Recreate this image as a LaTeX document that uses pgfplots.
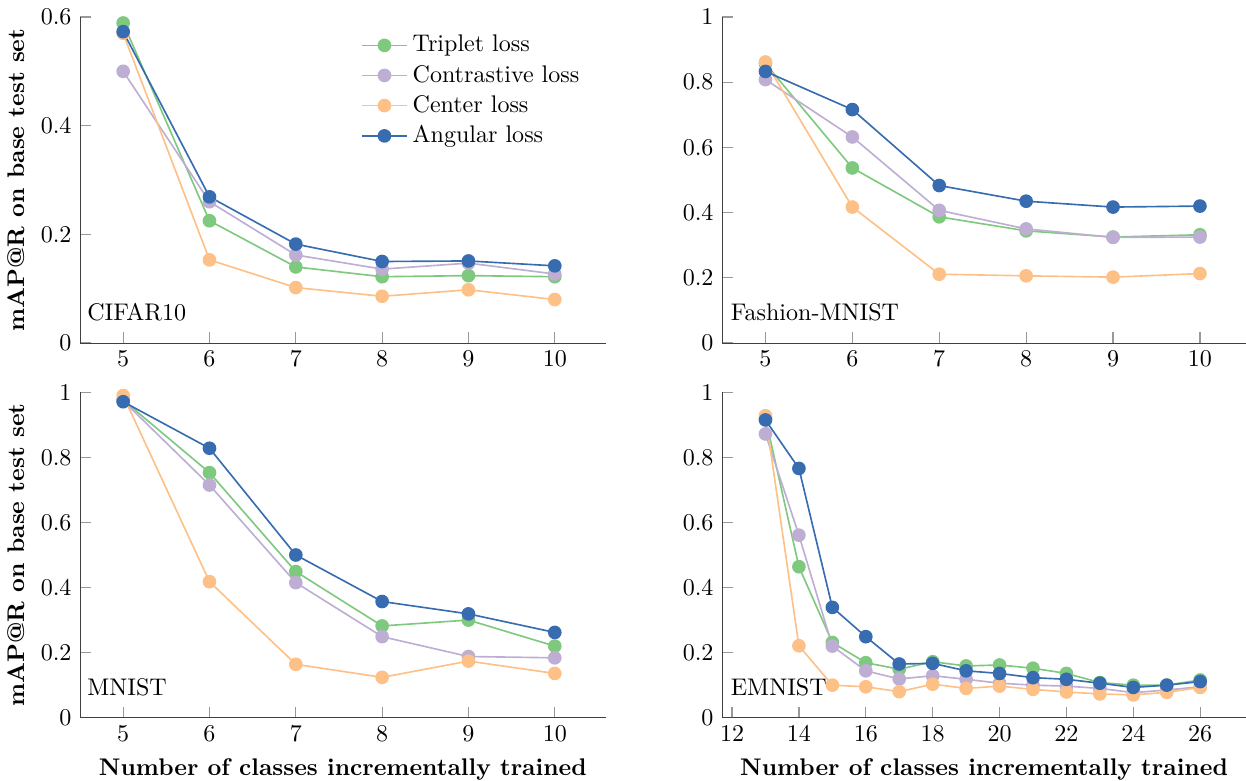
\documentclass[border=0pt]{standalone}
\usepackage{pgfplots}
\pgfplotsset{compat=1.18}
\definecolor{cTri}{HTML}{7FC97F}
\definecolor{cCon}{HTML}{BEAED4}
\definecolor{cCen}{HTML}{FDC086}
\definecolor{cAng}{HTML}{386CB0}
\pgfplotsset{
  base/.style={
    scale only axis,
    anchor=south west,
    axis x line*=bottom,
    axis y line*=left,
    axis line style={-, black!75},
    tick align=inside,
    major tick length=4.6pt,
    tick style={black!40, line width=0.5pt},
    ymin=0,
    every axis plot/.append style={line width=0.68pt, mark=*, mark size=2.5pt},
    yticklabel style={/pgf/number format/fixed},
    legend image code/.code={\draw[mark repeat=2,mark phase=2] plot coordinates {(0cm,0cm) (0.33cm,0cm) (0.66cm,0cm)};},
  },
  tri/.style={color=cTri, mark options={fill=cTri, draw=cTri}},
  con/.style={color=cCon, mark options={fill=cCon, draw=cCon}},
  cen/.style={color=cCen, mark options={fill=cCen, draw=cCen}},
  ang/.style={color=cAng, mark options={fill=cAng, draw=cAng}},
}
\begin{document}
\begin{tikzpicture}
\path[use as bounding box] (0,0) rectangle (518.34pt,324.48pt);
% Top-left: CIFAR10
\begin{axis}[base,
  at={(33.28pt,181.79pt)}, width=218.69pt, height=135.62pt,
  xmin=4.5, xmax=10.59, ymax=0.6,
  xtick={5,6,7,8,9,10}, ytick={0,0.2,0.4,0.6},
  ylabel={\textbf{mAP@R on base test set}},
  legend style={draw=none, fill=none, at={(0.52,0.975)}, anchor=north west, row sep=0pt},
  legend cell align=left,
]
\addplot[tri] coordinates {(5,0.589) (6,0.225) (7,0.140) (8,0.122) (9,0.124) (10,0.122)};
\addlegendentry{Triplet loss}
\addplot[con] coordinates {(5,0.500) (6,0.260) (7,0.162) (8,0.136) (9,0.147) (10,0.127)};
\addlegendentry{Contrastive loss}
\addplot[cen] coordinates {(5,0.570) (6,0.153) (7,0.102) (8,0.086) (9,0.098) (10,0.080)};
\addlegendentry{Center loss}
\addplot[ang] coordinates {(5,0.573) (6,0.269) (7,0.182) (8,0.150) (9,0.151) (10,0.142)};
\addlegendentry{Angular loss}
\node[anchor=south west, inner sep=0pt] at (rel axis cs:0.013,0.065) {CIFAR10};
\end{axis}
% Top-right: Fashion-MNIST
\begin{axis}[base,
  at={(300.35pt,181.79pt)}, width=217.98pt, height=135.62pt,
  xmin=4.5, xmax=10.53, ymax=1,
  xtick={5,6,7,8,9,10}, ytick={0,0.2,0.4,0.6,0.8,1},
]
\addplot[tri] coordinates {(5,0.857) (6,0.537) (7,0.387) (8,0.344) (9,0.325) (10,0.332)};
\addplot[con] coordinates {(5,0.808) (6,0.632) (7,0.407) (8,0.350) (9,0.324) (10,0.325)};
\addplot[cen] coordinates {(5,0.862) (6,0.417) (7,0.211) (8,0.206) (9,0.202) (10,0.213)};
\addplot[ang] coordinates {(5,0.833) (6,0.716) (7,0.483) (8,0.435) (9,0.417) (10,0.420)};
\node[anchor=south west, inner sep=0pt] at (rel axis cs:0.016,0.065) {Fashion-MNIST};
\end{axis}
% Bottom-left: MNIST
\begin{axis}[base,
  at={(33.28pt,25.92pt)}, width=218.69pt, height=135.37pt,
  xmin=4.5, xmax=10.59, ymax=1,
  xtick={5,6,7,8,9,10}, ytick={0,0.2,0.4,0.6,0.8,1},
  ylabel={\textbf{mAP@R on base test set}},
  xlabel={\textbf{Number of classes incrementally trained}},
]
\addplot[tri] coordinates {(5,0.976) (6,0.753) (7,0.449) (8,0.282) (9,0.300) (10,0.220)};
\addplot[con] coordinates {(5,0.974) (6,0.715) (7,0.415) (8,0.249) (9,0.188) (10,0.184)};
\addplot[cen] coordinates {(5,0.990) (6,0.418) (7,0.164) (8,0.124) (9,0.174) (10,0.136)};
\addplot[ang] coordinates {(5,0.971) (6,0.828) (7,0.500) (8,0.357) (9,0.319) (10,0.262)};
\node[anchor=south west, inner sep=0pt] at (rel axis cs:0.013,0.065) {MNIST};
\end{axis}
% Bottom-right: EMNIST
\begin{axis}[base,
  at={(300.35pt,25.92pt)}, width=217.98pt, height=135.37pt,
  xmin=11.7, xmax=27.37, ymax=1,
  xtick={12,14,16,18,20,22,24,26}, ytick={0,0.2,0.4,0.6,0.8,1},
  xlabel={\textbf{Number of classes incrementally trained}},
]
\addplot[tri] coordinates {(13,0.920) (14,0.464) (15,0.231) (16,0.169) (17,0.149) (18,0.172) (19,0.159) (20,0.162) (21,0.152) (22,0.136) (23,0.108) (24,0.100) (25,0.100) (26,0.116)};
\addplot[con] coordinates {(13,0.872) (14,0.561) (15,0.220) (16,0.144) (17,0.119) (18,0.129) (19,0.118) (20,0.106) (21,0.100) (22,0.097) (23,0.090) (24,0.077) (25,0.085) (26,0.095)};
\addplot[cen] coordinates {(13,0.928) (14,0.221) (15,0.100) (16,0.095) (17,0.080) (18,0.103) (19,0.090) (20,0.097) (21,0.087) (22,0.079) (23,0.073) (24,0.070) (25,0.078) (26,0.093)};
\addplot[ang] coordinates {(13,0.915) (14,0.766) (15,0.339) (16,0.249) (17,0.165) (18,0.167) (19,0.144) (20,0.136) (21,0.123) (22,0.118) (23,0.106) (24,0.093) (25,0.100) (26,0.111)};
\node[anchor=south west, inner sep=0pt] at (rel axis cs:0.016,0.065) {EMNIST};
\end{axis}
\end{tikzpicture}
\end{document}
